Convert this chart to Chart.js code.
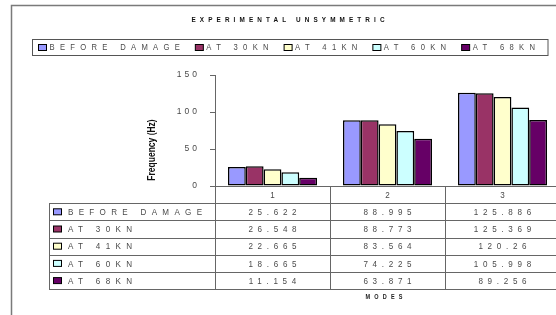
<!DOCTYPE html>
<html>
<head>
<meta charset="utf-8">
<script src="https://cdn.jsdelivr.net/npm/chart.js@4.4.1/dist/chart.umd.min.js"></script>
<style>
  html, body { margin: 0; padding: 0; background: #fff; overflow: hidden; }
  #wrap { width: 556px; height: 315px; overflow: hidden; position: relative; }
  canvas { display: block; }
</style>
</head>
<body>
<div id="wrap"><canvas id="c" width="575" height="315"></canvas></div>
<script>
// ---- data ----
const chartTitle = 'EXPERIMENTAL UNSYMMETRIC';
const xTitle = 'MODES';
const yTitle = 'Frequency (Hz)';
const categories = ['1', '2', '3'];
const seriesNames = ['BEFORE DAMAGE', 'AT 30KN', 'AT 41KN', 'AT 60KN', 'AT 68KN'];
const beforeDamage = [25.622, 88.995, 125.886];
const at30kN = [26.548, 88.773, 125.369];
const at41kN = [22.665, 83.564, 120.26];
const at60kN = [18.665, 74.225, 105.998];
const at68kN = [11.154, 63.871, 89.256];
const yTicks = [0, 50, 100, 150];
const seriesColors = ['#9999FF', '#993366', '#FFFFCC', '#CCFFFF', '#660066'];

const seriesValues = [beforeDamage, at30kN, at41kN, at60kN, at68kN];
const FONT = "'Liberation Sans', Arial, sans-serif";
const TEXT_GRAY = '#4a4a4a';
const LINE_GRAY = '#666666';
const CONDENSE = 0.85;

// draws text horizontally condensed with letter spacing; returns visible width
function spacedText(ctx, str, x, y, spacing, align) {
  ctx.save();
  ctx.letterSpacing = (spacing / CONDENSE) + 'px';
  const w = (ctx.measureText(str).width * CONDENSE) - spacing;
  let sx = x;
  if (align === 'center') sx = x - w / 2;
  else if (align === 'right') sx = x - w;
  ctx.textAlign = 'left';
  ctx.translate(sx, y);
  ctx.scale(CONDENSE, 1);
  ctx.fillText(str, 0, 0);
  ctx.restore();
  return w;
}

const decorPlugin = {
  id: 'decor',
  beforeDraw(chart) {
    chart.ctx.letterSpacing = '3px';
  },
  afterDraw(chart) {
    const ctx = chart.ctx;
    ctx.letterSpacing = '0px';
    const xs = chart.scales.x;
    const area = chart.chartArea;

    // outer frame
    ctx.save();
    ctx.strokeStyle = '#7a7a7a';
    ctx.lineWidth = 1.5;
    ctx.beginPath();
    ctx.moveTo(11.5, 315);
    ctx.lineTo(11.5, 5.5);
    ctx.lineTo(chart.width, 5.5);
    ctx.stroke();
    ctx.restore();

    // title
    ctx.save();
    ctx.fillStyle = '#111';
    ctx.font = 'bold 7.5px ' + FONT;
    ctx.textBaseline = 'middle';
    spacedText(ctx, chartTitle, 288, 20, 4.1, 'center');
    ctx.restore();

    // legend
    ctx.save();
    ctx.strokeStyle = '#555';
    ctx.lineWidth = 1;
    ctx.strokeRect(32.5, 39.5, 515.5, 16);
    ctx.font = '9px ' + FONT;
    ctx.textBaseline = 'middle';
    let lx = 38;
    seriesNames.forEach((name, i) => {
      ctx.fillStyle = seriesColors[i];
      ctx.fillRect(lx + 0.5, 44.5, 8, 6);
      ctx.strokeStyle = '#000';
      ctx.strokeRect(lx + 0.5, 44.5, 8, 6);
      ctx.fillStyle = TEXT_GRAY;
      const w = spacedText(ctx, name, lx + 11.5, 48, 5.3, 'left');
      lx = lx + 11.5 + w + 15;
    });
    ctx.restore();

    // y axis title
    ctx.save();
    ctx.fillStyle = '#111';
    ctx.font = 'bold 10px ' + FONT;
    ctx.textAlign = 'center';
    ctx.textBaseline = 'middle';
    ctx.translate(152, 150);
    ctx.rotate(-Math.PI / 2);
    ctx.scale(CONDENSE, 1);
    ctx.fillText(yTitle, 0, 0);
    ctx.restore();

    // data table
    const catW = (xs.right - xs.left) / categories.length;
    const tableLeft = 49;
    const headTop = area.bottom;
    const rowH = 17.2;
    const rowsTop = headTop + rowH;
    const tableBottom = rowsTop + rowH * seriesNames.length;
    ctx.save();
    ctx.strokeStyle = LINE_GRAY;
    ctx.lineWidth = 1;
    ctx.beginPath();
    ctx.moveTo(xs.left, Math.round(headTop) + 0.5);
    ctx.lineTo(chart.width, Math.round(headTop) + 0.5);
    for (let r = 0; r <= seriesNames.length; r++) {
      const y = Math.round(rowsTop + r * rowH) + 0.5;
      ctx.moveTo(tableLeft, y);
      ctx.lineTo(chart.width, y);
    }
    ctx.moveTo(tableLeft + 0.5, Math.round(rowsTop) + 0.5);
    ctx.lineTo(tableLeft + 0.5, Math.round(tableBottom) + 0.5);
    for (let c = 0; c <= categories.length; c++) {
      const x = Math.round(xs.getPixelForValue(c) - catW / 2) + 0.5;
      ctx.moveTo(x, Math.round(headTop) + 0.5);
      ctx.lineTo(x, Math.round(tableBottom) + 0.5);
    }
    ctx.stroke();

    ctx.textBaseline = 'middle';
    ctx.font = '9.5px ' + FONT;
    ctx.fillStyle = TEXT_GRAY;
    categories.forEach((cat, c) => {
      spacedText(ctx, cat, xs.getPixelForValue(c), headTop + rowH / 2 + 0.5, 4, 'center');
    });
    seriesNames.forEach((name, r) => {
      const yc = rowsTop + r * rowH + rowH / 2 + 0.5;
      ctx.fillStyle = seriesColors[r];
      ctx.fillRect(53.5, yc - 3.5, 8, 6);
      ctx.strokeStyle = '#000';
      ctx.strokeRect(53.5, yc - 3.5, 8, 6);
      ctx.fillStyle = TEXT_GRAY;
      spacedText(ctx, name, 68, yc, 5.3, 'left');
      seriesValues[r].forEach((v, c) => {
        spacedText(ctx, String(v), xs.getPixelForValue(c), yc, 4.7, 'center');
      });
    });

    // x title
    ctx.fillStyle = '#222';
    ctx.font = 'bold 6.5px ' + FONT;
    spacedText(ctx, xTitle, 384, 297, 4.2, 'center');
    ctx.restore();
  }
};

new Chart(document.getElementById('c'), {
  type: 'bar',
  data: {
    labels: categories,
    datasets: seriesNames.map((name, i) => ({
      label: name,
      data: seriesValues[i],
      backgroundColor: seriesColors[i],
      borderColor: '#000000',
      borderWidth: 1.5,
      borderSkipped: false,
      categoryPercentage: 0.774,
      barPercentage: 1.0
    }))
  },
  options: {
    responsive: false,
    animation: false,
    devicePixelRatio: 1,
    layout: { padding: { left: 0, right: 15, top: 75, bottom: 129 } },
    plugins: {
      legend: { display: false },
      title: { display: false },
      tooltip: { enabled: false }
    },
    scales: {
      x: {
        display: false,
        offset: true
      },
      y: {
        min: 0,
        max: 150,
        afterFit(scale) { scale.width = 215; },
        afterBuildTicks(scale) { scale.ticks = yTicks.map(v => ({ value: v })); },
        grid: { drawOnChartArea: false, drawTicks: true, tickLength: 5, color: LINE_GRAY },
        border: { display: true, color: LINE_GRAY, width: 1 },
        ticks: {
          padding: 10,
          color: TEXT_GRAY,
          font: { family: FONT, size: 8.5 }
        }
      }
    }
  },
  plugins: [decorPlugin]
});
</script>
</body>
</html>
